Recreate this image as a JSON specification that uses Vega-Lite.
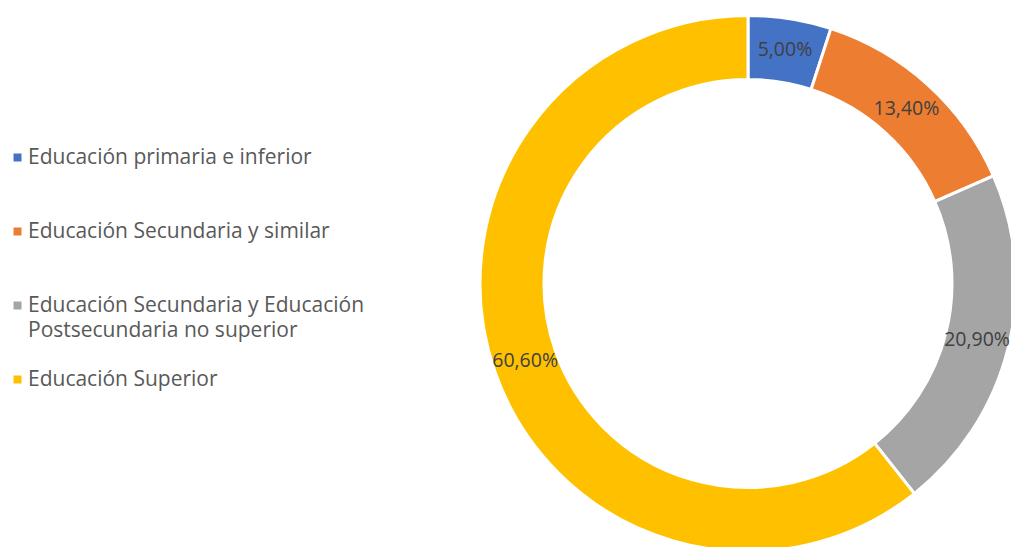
{
  "$schema": "https://vega.github.io/schema/vega-lite/v6.json",
  "width": 526,
  "height": 527,
  "padding": {"left": 485, "top": 20, "right": 0, "bottom": 0},
  "autosize": {"type": "none"},
  "background": "white",
  "config": {
    "view": {"stroke": null},
    "style": {"guide-label": {"lineHeight": 25}},
    "locale": {"number": {"decimal": ",", "thousands": ".", "grouping": [3], "currency": ["", " €"]}}
  },
  "data": {
    "values": [
      {"idx": 1, "nivel": "Educación primaria e inferior", "valor": 0.05},
      {"idx": 2, "nivel": "Educación Secundaria y similar", "valor": 0.134},
      {"idx": 3, "nivel": "Educación Secundaria y Educación Postsecundaria no superior", "valor": 0.209},
      {"idx": 4, "nivel": "Educación Superior", "valor": 0.606}
    ]
  },
  "encoding": {
    "theta": {"field": "valor", "type": "quantitative", "stack": true},
    "order": {"field": "idx", "type": "quantitative"}
  },
  "layer": [
    {
      "mark": {"type": "arc", "outerRadius": 268, "innerRadius": 204, "stroke": "white", "strokeWidth": 3},
      "encoding": {
        "color": {
          "field": "nivel",
          "type": "nominal",
          "sort": {"field": "idx"},
          "scale": {
            "domain": ["Educación primaria e inferior", "Educación Secundaria y similar", "Educación Secundaria y Educación Postsecundaria no superior", "Educación Superior"],
            "range": ["#4472C4", "#ED7D31", "#A5A5A5", "#FFC000"]
          },
          "legend": {
            "title": null,
            "orient": "none",
            "legendX": -478,
            "legendY": 127,
            "symbolType": "square",
            "symbolSize": 64,
            "symbolStrokeWidth": 0,
            "labelFont": "Open Sans",
            "labelFontSize": 21,
            "labelColor": "#595959",
            "labelLimit": 500,
            "labelOffset": 0,
            "rowPadding": 27,
            "labelExpr": "datum.label == 'Educación Secundaria y Educación Postsecundaria no superior' ? ['Educación Secundaria y Educación', 'Postsecundaria no superior'] : [datum.label, '']"
          }
        }
      }
    },
    {
      "mark": {"type": "text", "radius": 236, "font": "Open Sans", "fontSize": 19.5, "fill": "#404040"},
      "encoding": {
        "text": {"field": "valor", "type": "quantitative", "format": ".2%"}
      }
    }
  ]
}
